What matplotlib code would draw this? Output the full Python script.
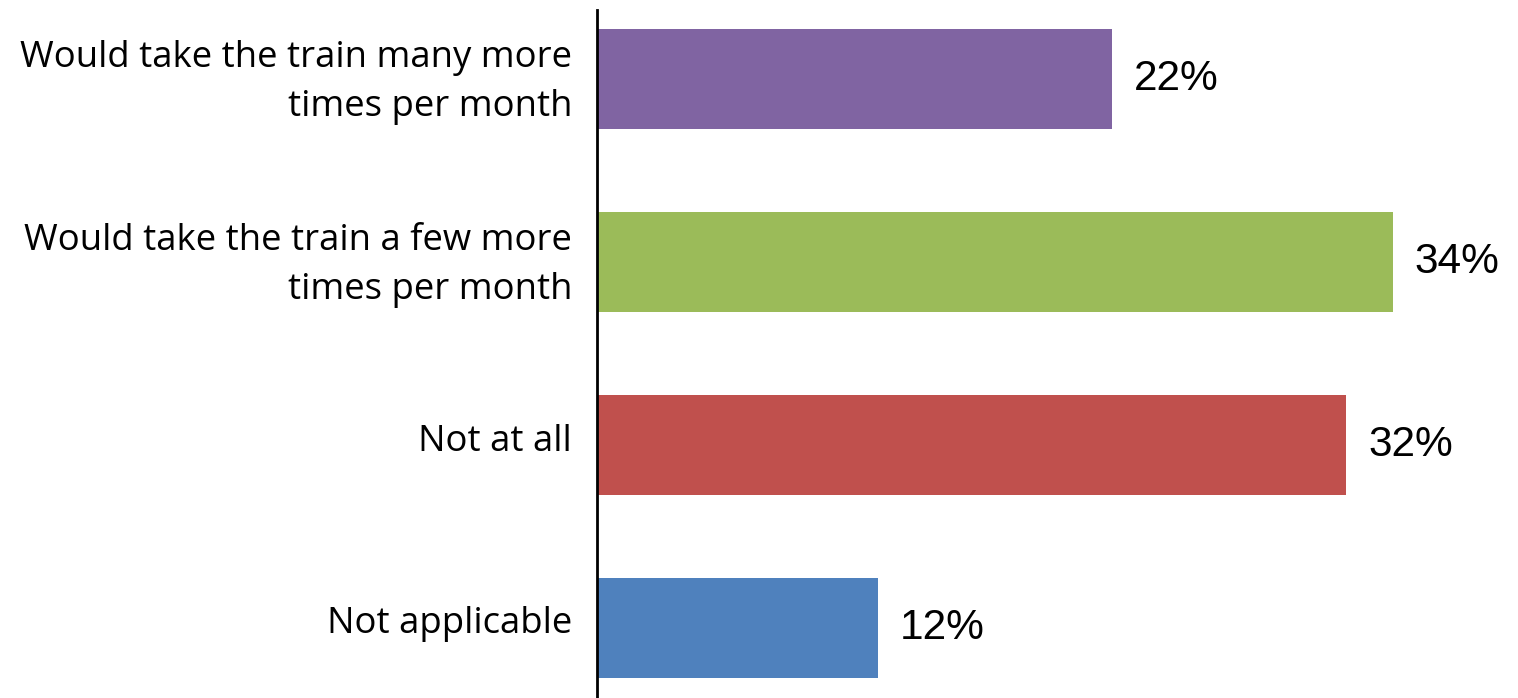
import matplotlib.pyplot as plt
from matplotlib.transforms import ScaledTranslation

# survey responses, listed bottom to top
categories = [
    "Not applicable",
    "Not at all",
    "Would take the train a few more\ntimes per month",
    "Would take the train many more\ntimes per month",
]
shares = [12, 32, 34, 22]
colors = ["#4F81BD", "#C0504D", "#9BBB59", "#8064A2"]

fig = plt.figure(figsize=(15.18, 6.98), dpi=100)
ax = fig.add_axes([597 / 1518, 0, 921 / 1518, 1 - 10 / 698])

ypos = list(range(len(categories)))
ax.barh(ypos, shares, height=0.547, color=colors, zorder=2)

for y, v in zip(ypos, shares):
    ax.text(v + 0.95, y, f"{v}%", va="center", ha="left",
            fontsize=30.5, family="Liberation Sans")

ax.set_xlim(0, 39.36)
ax.set_ylim(-0.383, 3.38)
ax.set_yticks(ypos)
ax.set_yticklabels(categories, fontsize=26.3, family="Open Sans",
                   ha="right", linespacing=1.5)
ax.tick_params(axis="y", length=0, pad=18)
ax.set_xticks([])

# nudge the category labels up a little
lift = ScaledTranslation(0, 8 / 100, fig.dpi_scale_trans)
for lbl in ax.get_yticklabels():
    lbl.set_transform(lbl.get_transform() + lift)

for side in ["top", "right", "bottom"]:
    ax.spines[side].set_visible(False)
ax.spines["left"].set_linewidth(2)
ax.spines["left"].set_zorder(3)

fig.savefig("out.png", dpi=100)
